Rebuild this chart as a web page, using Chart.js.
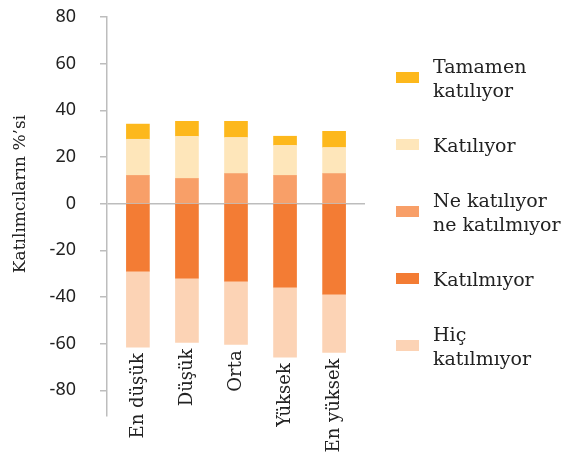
<!DOCTYPE html>
<html>
<head>
  <meta charset="utf-8">
  <title>Katılım</title>
  <script src="https://cdn.jsdelivr.net/npm/chart.js"></script>
  <style>
    body { margin: 0; background: #fff; }
    #wrap { position: relative; width: 573px; height: 462px; }
    #legend { position: absolute; left: 396px; top: 44px; font-family: "DejaVu Serif", serif; font-size: 19px; color: #222; line-height: 24px; }
    .item { display: flex; align-items: center; height: 67px; }
    .box { width: 23px; height: 11px; margin-right: 14px; flex: none; }
  </style>
</head>
<body>
  <div id="wrap">
    <canvas id="grafico" width="573" height="462"></canvas>
    <div id="legend"></div>
  </div>

  <script>
    // categorias y series
    var categorias = ["En düşük", "Düşük", "Orta", "Yüksek", "En yüksek"];
    var neKatiliyor = [12.1, 10.8, 12.9, 12.1, 12.9];
    var katiliyor = [15.5, 18.1, 15.5, 12.9, 11.2];
    var tamamen = [6.5, 6.4, 6.9, 3.9, 6.9];
    var katilmiyor = [-28.9, -31.9, -33.2, -35.8, -38.8];
    var hicKatilmiyor = [-32.6, -27.6, -27.1, -30.0, -25.0];
    var ticksY = [-80, -60, -40, -20, 0, 20, 40, 60, 80];
    var tituloY = "Katılımcıların %’si";

    var fuente = "DejaVu Serif";
    var gris = "#bdbdbd";

    var series = [
      { label: ["Ne katılıyor", "ne katılmıyor"], data: neKatiliyor, color: "#f89f68" },
      { label: ["Katılıyor"], data: katiliyor, color: "#fee6ba" },
      { label: ["Tamamen", "katılıyor"], data: tamamen, color: "#fdb81c" },
      { label: ["Katılmıyor"], data: katilmiyor, color: "#f37c34" },
      { label: ["Hiç", "katılmıyor"], data: hicKatilmiyor, color: "#fcd3b5" }
    ];

    // etiquetas de categoria debajo de cada barra + titulo del eje
    var etiquetasPlugin = {
      id: "etiquetas",
      afterDatasetsDraw: function(chart) {
        var ctx = chart.ctx;
        var meta = chart.getDatasetMeta(chart.data.datasets.length - 1);
        ctx.save();
        ctx.font = "18px '" + fuente + "'";
        ctx.fillStyle = "#222";
        ctx.textAlign = "right";
        ctx.textBaseline = "middle";
        meta.data.forEach(function(bar, i) {
          ctx.save();
          ctx.translate(bar.x, bar.y + 6);
          ctx.rotate(-Math.PI / 2);
          ctx.fillText(categorias[i], 0, 0);
          ctx.restore();
        });
        // titulo del eje y
        ctx.font = "17px '" + fuente + "'";
        ctx.textAlign = "center";
        ctx.translate(21, 194);
        ctx.rotate(-Math.PI / 2);
        ctx.fillText(tituloY, 0, 0);
        ctx.restore();
      }
    };

    var ctx = document.getElementById("grafico").getContext("2d");
    new Chart(ctx, {
      type: "bar",
      data: {
        labels: categorias,
        datasets: series.map(function(s) {
          return { label: s.label.join(" "), data: s.data, backgroundColor: s.color, barThickness: 23 };
        })
      },
      options: {
        responsive: false,
        animation: false,
        layout: { padding: { top: 17, right: 208, bottom: 46, left: 0 } },
        plugins: { legend: { display: false }, tooltip: { enabled: false } },
        scales: {
          x: {
            stacked: true,
            ticks: { display: false },
            grid: { display: false },
            border: { display: false },
            afterBuildTicks: function(s) {
              s._startValue = -0.63;
              s._valueRange = 5.26;
            },
            afterFit: function(s) { s.height = 0; }
          },
          y: {
            stacked: true,
            min: -91,
            max: 80,
            afterBuildTicks: function(s) {
              s.ticks = ticksY.map(function(v) { return { value: v }; });
            },
            afterFit: function(s) {
              s.width = 107;
              s.paddingTop = 0;
              s.paddingBottom = 0;
            },
            ticks: { color: "#222", font: { family: "Noto Sans", size: 18 }, padding: 24 },
            grid: {
              color: function(c) { return c.tick && c.tick.value === 0 ? gris : "rgba(0,0,0,0)"; },
              tickColor: gris,
              tickLength: 7,
              lineWidth: 1.5
            },
            border: { color: gris, width: 1.5 }
          }
        }
      },
      plugins: [etiquetasPlugin]
    });

    // leyenda en orden inverso
    var leg = document.getElementById("legend");
    [2, 1, 0, 3, 4].forEach(function(k) {
      var s = series[k];
      var row = document.createElement("div");
      row.className = "item";
      row.innerHTML = '<span class="box" style="background:' + s.color + '"></span><span>' + s.label.join("<br>") + "</span>";
      leg.appendChild(row);
    });
  </script>
</body>
</html>
